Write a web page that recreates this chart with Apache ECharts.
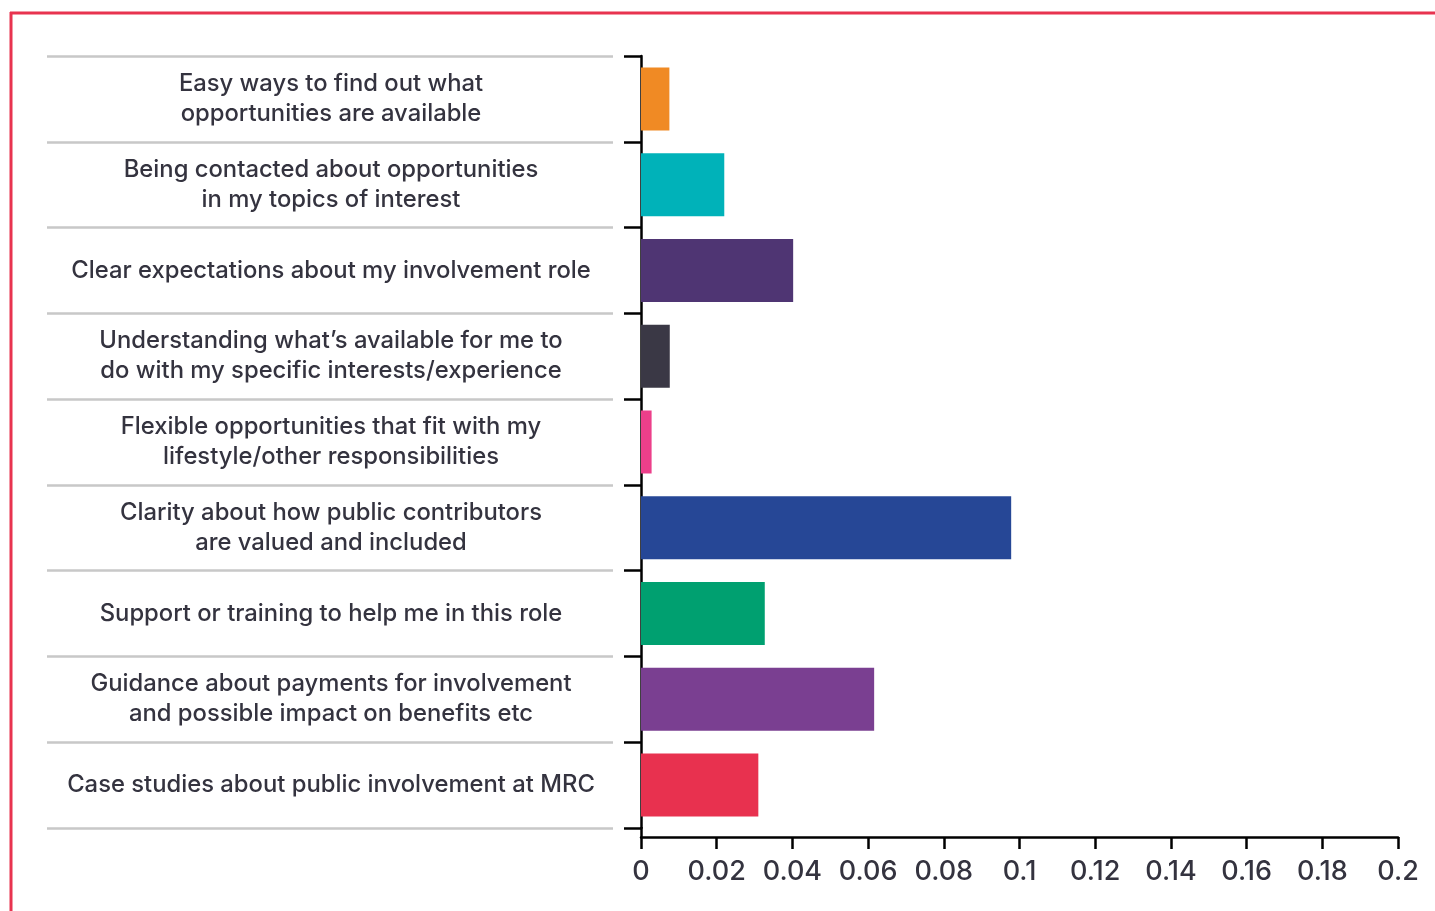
<!DOCTYPE html>
<html>
<head>
<meta charset="utf-8">
<script src="https://cdn.jsdelivr.net/npm/echarts@6/dist/echarts.min.js"></script>
<style>
html,body{margin:0;padding:0;background:#fff;}
#chart{width:1435px;height:911px;}
</style>
</head>
<body>
<div id="chart"></div>
<script>
const categories = [
  "Easy ways to find out what\nopportunities are available",
  "Being contacted about opportunities\nin my topics of interest",
  "Clear expectations about my involvement role",
  "Understanding what’s available for me to\ndo with my specific interests/experience",
  "Flexible opportunities that fit with my\nlifestyle/other responsibilities",
  "Clarity about how public contributors\nare valued and included",
  "Support or training to help me in this role",
  "Guidance about payments for involvement\nand possible impact on benefits etc",
  "Case studies about public involvement at MRC"
];
const values = [0.0075, 0.022, 0.0402, 0.0076, 0.0028, 0.0978, 0.0327, 0.0616, 0.031];
const barColors = ["#F08A24", "#00B2B9", "#4F3573", "#3A3845", "#EC3F8A", "#264796", "#00A070", "#7A3F91", "#E8314F"];
const xTicks = { min: 0, max: 0.2, interval: 0.02 };

const chart = echarts.init(document.getElementById('chart'));
const textColor = '#34333F';
const font = 'Inter, "Noto Sans", sans-serif';

chart.setOption({
  animation: false,
  grid: { left: 641, right: 37, top: 56, bottom: 83, containLabel: false },
  xAxis: {
    type: 'value',
    min: xTicks.min, max: xTicks.max, interval: xTicks.interval,
    offset: 9,
    axisLine: { show: true, lineStyle: { color: '#000', width: 2.5 } },
    axisTick: { show: true, length: 12, lineStyle: { color: '#000', width: 2.5 } },
    splitLine: { show: false },
    axisLabel: { color: textColor, fontSize: 27, fontWeight: 500, fontFamily: font, margin: 21,
      formatter: v => String(+v.toFixed(2)) }
  },
  yAxis: [
    {
      type: 'category', data: categories, inverse: true,
      axisLine: { show: true, lineStyle: { color: '#000', width: 2.5 } },
      axisTick: { show: true, length: 17, lineStyle: { color: '#000', width: 2.5 } },
      axisLabel: { align: 'center', margin: 310, color: textColor, fontSize: 23.8, fontWeight: 500,
        fontFamily: font, lineHeight: 30, padding: [4, 0, 0, 0] }
    },
    {
      type: 'category', data: categories, inverse: true, position: 'left', offset: 28,
      axisLine: { show: false },
      axisTick: { show: true, length: 566, lineStyle: { color: '#C8C8C8', width: 2.5 } },
      axisLabel: { show: false }
    }
  ],
  series: [{
    type: 'bar',
    yAxisIndex: 0,
    data: values.map((v, i) => ({ value: v, itemStyle: { color: barColors[i] } })),
    barWidth: 63
  }],
  graphic: [
    { type: 'line', shape: { x1: 10, y1: 13, x2: 1435, y2: 13 }, style: { stroke: '#E8334F', lineWidth: 3 } },
    { type: 'line', shape: { x1: 11, y1: 12, x2: 11, y2: 911 }, style: { stroke: '#E8334F', lineWidth: 3 } },
    { type: 'line', shape: { x1: 641.5, y1: 827, x2: 641.5, y2: 838 }, style: { stroke: '#000', lineWidth: 2.5 } }
  ]
});
</script>
</body>
</html>
